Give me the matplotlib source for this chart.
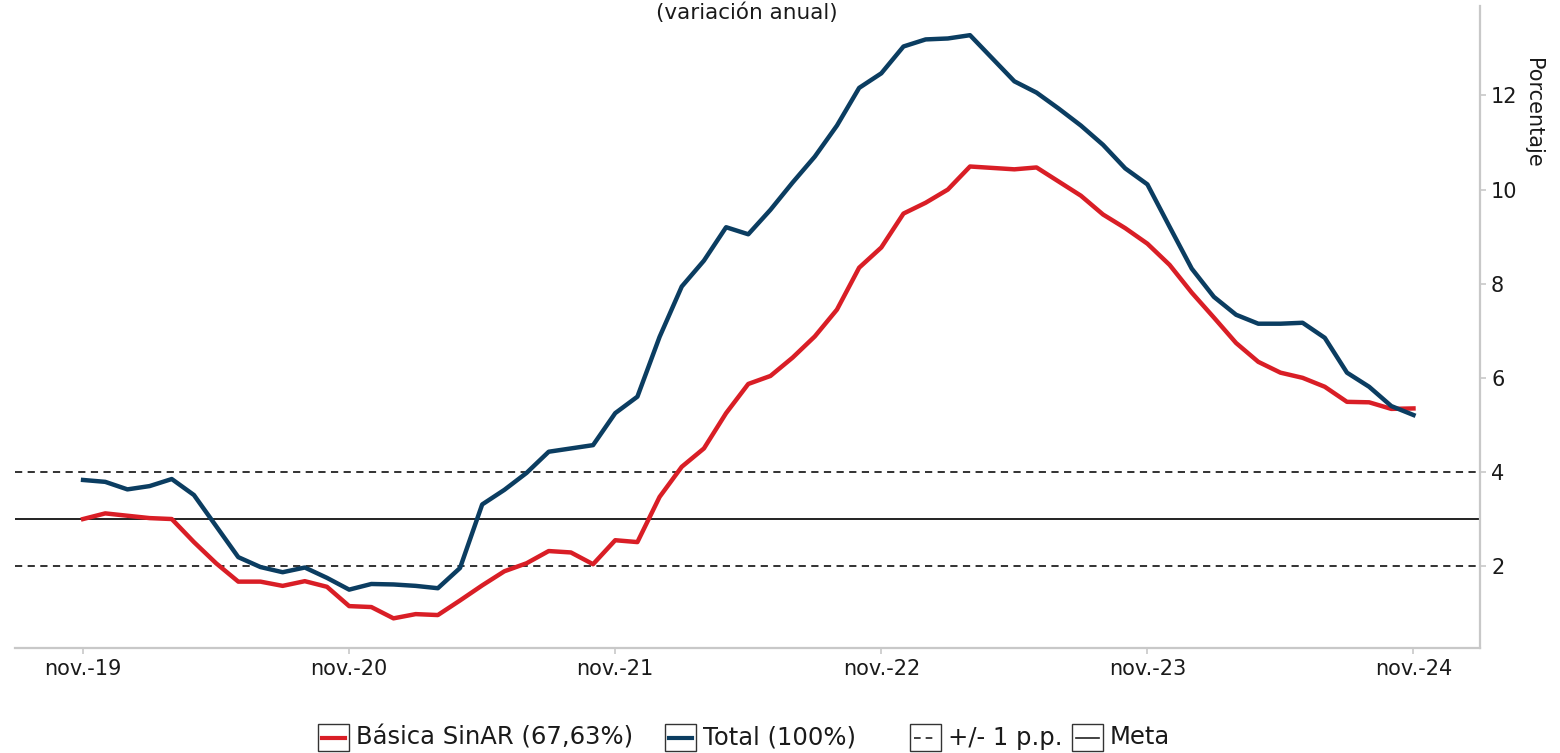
import matplotlib
matplotlib.use("Agg")
import matplotlib.pyplot as plt
import matplotlib.patches as mpatches
import matplotlib.lines as mlines
import numpy as np

plt.rcParams['font.family'] = ['DejaVu Sans']

# ----------------------------------------------------------------------------
# Data: monthly annual variation, nov-19 .. nov-24
# ----------------------------------------------------------------------------
basica = [3.00, 3.12, 3.07, 3.02, 3.00, 2.51, 2.06, 1.67, 1.67, 1.58,
          1.68, 1.56, 1.15, 1.13, 0.89, 0.98, 0.96, 1.27, 1.59, 1.89,
          2.06, 2.32, 2.29, 2.04, 2.55, 2.51, 3.47, 4.11, 4.50, 5.25,
          5.87, 6.04, 6.43, 6.88, 7.45, 8.34, 8.77, 9.49, 9.72, 10.00,
          10.49, 10.46, 10.43, 10.47, 10.17, 9.87, 9.47, 9.18, 8.85, 8.40,
          7.81, 7.28, 6.74, 6.34, 6.11, 6.00, 5.81, 5.49, 5.48, 5.34,
          5.35]
total = [3.83, 3.79, 3.63, 3.70, 3.85, 3.51, 2.85, 2.19, 1.98, 1.87,
         1.97, 1.75, 1.50, 1.62, 1.61, 1.58, 1.53, 1.96, 3.31, 3.62,
         3.98, 4.43, 4.50, 4.57, 5.25, 5.60, 6.87, 7.94, 8.49, 9.20,
         9.05, 9.57, 10.15, 10.70, 11.36, 12.16, 12.47, 13.04, 13.19, 13.21,
         13.28, 12.79, 12.30, 12.06, 11.72, 11.36, 10.95, 10.45, 10.11, 9.21,
         8.32, 7.72, 7.34, 7.15, 7.15, 7.17, 6.85, 6.11, 5.81, 5.40,
         5.21]
meta = 3.0
banda = [2.0, 4.0]

tick_labels = ['nov.-19', 'nov.-20', 'nov.-21', 'nov.-22', 'nov.-23', 'nov.-24']
y_ticks = [2, 4, 6, 8, 10, 12]

RED = '#D91E26'
BLUE = '#0B3D61'
GRAY = '#C8C8C8'
TXT = '#1a1a1a'

x = np.arange(len(total))

W, H = 1560, 753
fig = plt.figure(figsize=(W / 100, H / 100), dpi=100)
ax = fig.add_axes([15 / W, 1 - 648 / H, (1480 - 15) / W, (648 - 6) / H])

ax.axhline(meta, color='#222222', lw=1.4, zorder=1)
for b in banda:
    ax.axhline(b, color='#222222', lw=1.3, ls=(0, (4, 3)), zorder=1)

ax.plot(x, basica, color=RED, lw=3.2, zorder=3)
ax.plot(x, total, color=BLUE, lw=3.2, zorder=4)

ax.set_xlim(-3.07, 63.0)
ax.set_ylim(0.26, 13.9)

ax.set_xticks(np.arange(0, len(total), 12))
ax.set_xticklabels(tick_labels)
ax.set_yticks(y_ticks)
ax.yaxis.tick_right()

for side in ['top', 'left']:
    ax.spines[side].set_visible(False)
for side in ['right', 'bottom']:
    ax.spines[side].set_color(GRAY)
    ax.spines[side].set_linewidth(1.6)

ax.tick_params(axis='both', labelcolor=TXT, labelsize=15, length=4, width=1.2,
               color=GRAY)
ax.tick_params(axis='x', pad=4)
ax.tick_params(axis='y', pad=4)

# y axis title, top-aligned on the right side
fig.text(1533 / W, 1 - 58 / H, 'Porcentaje', rotation=-90, ha='center', va='top',
         fontsize=15, color=TXT)

# title (partly clipped at top, as in the reference)
fig.text(747 / W, 1 - 13 / H, '(variación anual)', ha='center', va='center',
         fontsize=15.5, color=TXT)

# ----------------------------------------------------------------------------
# Legend at the bottom with boxed keys
# ----------------------------------------------------------------------------
legend_items = [
    ('Básica SinAR (67,63%)', RED, '-', 3.0, 318),
    ('Total (100%)', BLUE, '-', 3.0, 665),
    ('+/- 1 p.p.', '#222222', (0, (4, 3)), 1.2, 910),
    ('Meta', '#222222', '-', 1.2, 1072),
]
ky0, ky1 = 724, 751
for label, col, ls, lw, kx in legend_items:
    box = mpatches.Rectangle((kx / W, 1 - ky1 / H), 31 / W, (ky1 - ky0) / H,
                             transform=fig.transFigure, facecolor='white',
                             edgecolor='#333333', lw=1.0)
    fig.add_artist(box)
    yc = 1 - (ky0 + ky1) / 2 / H
    ln = mlines.Line2D([(kx + 4) / W, (kx + 27) / W], [yc, yc],
                       transform=fig.transFigure, color=col, ls=ls, lw=lw)
    fig.add_artist(ln)
    fig.text((kx + 38) / W, yc, label, ha='left', va='center', fontsize=17.5,
             color=TXT)

fig.savefig('out.png', dpi=100, facecolor='white')
